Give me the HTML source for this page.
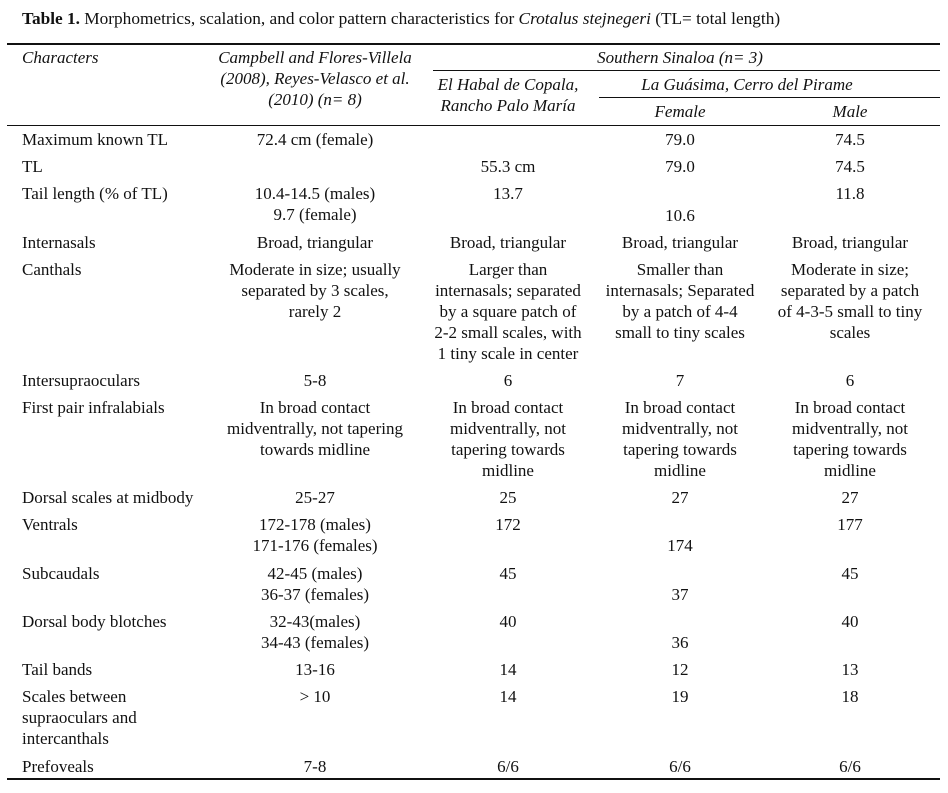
<!DOCTYPE html>
<html><head><meta charset="utf-8">
<style>
body{margin:0;background:#fff;}
#page{position:relative;width:948px;height:793px;overflow:hidden;background:#fff;font-family:"Liberation Serif",serif;color:#111;}
.t{position:absolute;white-space:nowrap;font-size:17px;line-height:18px;}
.c{transform:translateX(-50%);}
.l{}
.i{font-style:italic;}
.rule{position:absolute;height:1.5px;background:#111;}
</style></head>
<body>
<div id="page">
  <div class="t l" style="left:22px;top:10px;font-size:17.3px;"><b>Table 1.</b> Morphometrics, scalation, and color pattern characteristics for <i>Crotalus stejnegeri</i> (TL= total length)</div>
  <div class="rule" style="left:7px;width:933px;top:43px;"></div>
  <div class="rule" style="left:433px;width:507px;top:70px;height:1px;"></div>
  <div class="rule" style="left:599px;width:341px;top:97px;height:1px;"></div>
  <div class="rule" style="left:7px;width:933px;top:125px;height:1px;"></div>
  <div class="rule" style="left:7px;width:933px;top:778px;"></div>
</div>
<script>
const page=document.getElementById('page');
const colX=[22,315,508,680,850];
// [col, centerY, text, italic, override x]
const cells=[
[0,58,'Characters',1],[1,58,'Campbell and Flores-Villela',1],[1,79,'(2008), Reyes-Velasco et al.',1],[1,100,'(2010) (n= 8)',1],
[5,58,'Southern Sinaloa (n= 3)',1,680],[2,85,'El Habal de Copala,',1],[2,106,'Rancho Palo María',1],
[5,85,'La Guásima, Cerro del Pirame',1,747],[3,112,'Female',1],[4,112,'Male',1],
[0,140,'Maximum known TL'],[1,140,'72.4 cm (female)'],[3,140,'79.0'],[4,140,'74.5'],
[0,167,'TL'],[2,167,'55.3 cm'],[3,167,'79.0'],[4,167,'74.5'],
[0,194,'Tail length (% of TL)'],[1,194,'10.4-14.5 (males)'],[1,215,'9.7 (female)'],[2,194,'13.7'],[3,216,'10.6'],[4,194,'11.8'],
[0,243,'Internasals'],[1,243,'Broad, triangular'],[2,243,'Broad, triangular'],[3,243,'Broad, triangular'],[4,243,'Broad, triangular'],
[0,270,'Canthals'],[1,270,'Moderate in size; usually'],[1,291,'separated by 3 scales,'],[1,312,'rarely 2'],
[2,270,'Larger than'],[2,291,'internasals; separated'],[2,312,'by a square patch of'],[2,333,'2-2 small scales, with'],[2,354,'1 tiny scale in center'],
[3,270,'Smaller than'],[3,291,'internasals; Separated'],[3,312,'by a patch of 4-4'],[3,333,'small to tiny scales'],
[4,270,'Moderate in size;'],[4,291,'separated by a patch'],[4,312,'of 4-3-5 small to tiny'],[4,333,'scales'],
[0,381,'Intersupraoculars'],[1,381,'5-8'],[2,381,'6'],[3,381,'7'],[4,381,'6'],
[0,408,'First pair infralabials'],[1,408,'In broad contact'],[1,429,'midventrally, not tapering'],[1,450,'towards midline'],
[2,408,'In broad contact'],[2,429,'midventrally, not'],[2,450,'tapering towards'],[2,471,'midline'],
[3,408,'In broad contact'],[3,429,'midventrally, not'],[3,450,'tapering towards'],[3,471,'midline'],
[4,408,'In broad contact'],[4,429,'midventrally, not'],[4,450,'tapering towards'],[4,471,'midline'],
[0,498,'Dorsal scales at midbody'],[1,498,'25-27'],[2,498,'25'],[3,498,'27'],[4,498,'27'],
[0,525,'Ventrals'],[1,525,'172-178 (males)'],[1,546,'171-176 (females)'],[2,525,'172'],[3,546,'174'],[4,525,'177'],
[0,574,'Subcaudals'],[1,574,'42-45 (males)'],[1,595,'36-37 (females)'],[2,574,'45'],[3,595,'37'],[4,574,'45'],
[0,622,'Dorsal body blotches'],[1,622,'32-43(males)'],[1,643,'34-43 (females)'],[2,622,'40'],[3,643,'36'],[4,622,'40'],
[0,670,'Tail bands'],[1,670,'13-16'],[2,670,'14'],[3,670,'12'],[4,670,'13'],
[0,697,'Scales between'],[0,718,'supraoculars and'],[0,739,'intercanthals'],[1,697,'> 10'],[2,697,'14'],[3,697,'19'],[4,697,'18'],
[0,767,'Prefoveals'],[1,767,'7-8'],[2,767,'6/6'],[3,767,'6/6'],[4,767,'6/6']
];
cells.forEach(function(c){
  const d=document.createElement('div');
  
  
  const x=(c[0]===5)?c[4]:colX[c[0]];
  d.className='t '+(c[0]===0?'l':'c')+(c[3]?' i':'');
  d.style.left=x+'px';
  d.style.top=(c[1]-9)+'px';
  d.textContent=c[2];
  page.appendChild(d);
});
</script>
</body></html>
